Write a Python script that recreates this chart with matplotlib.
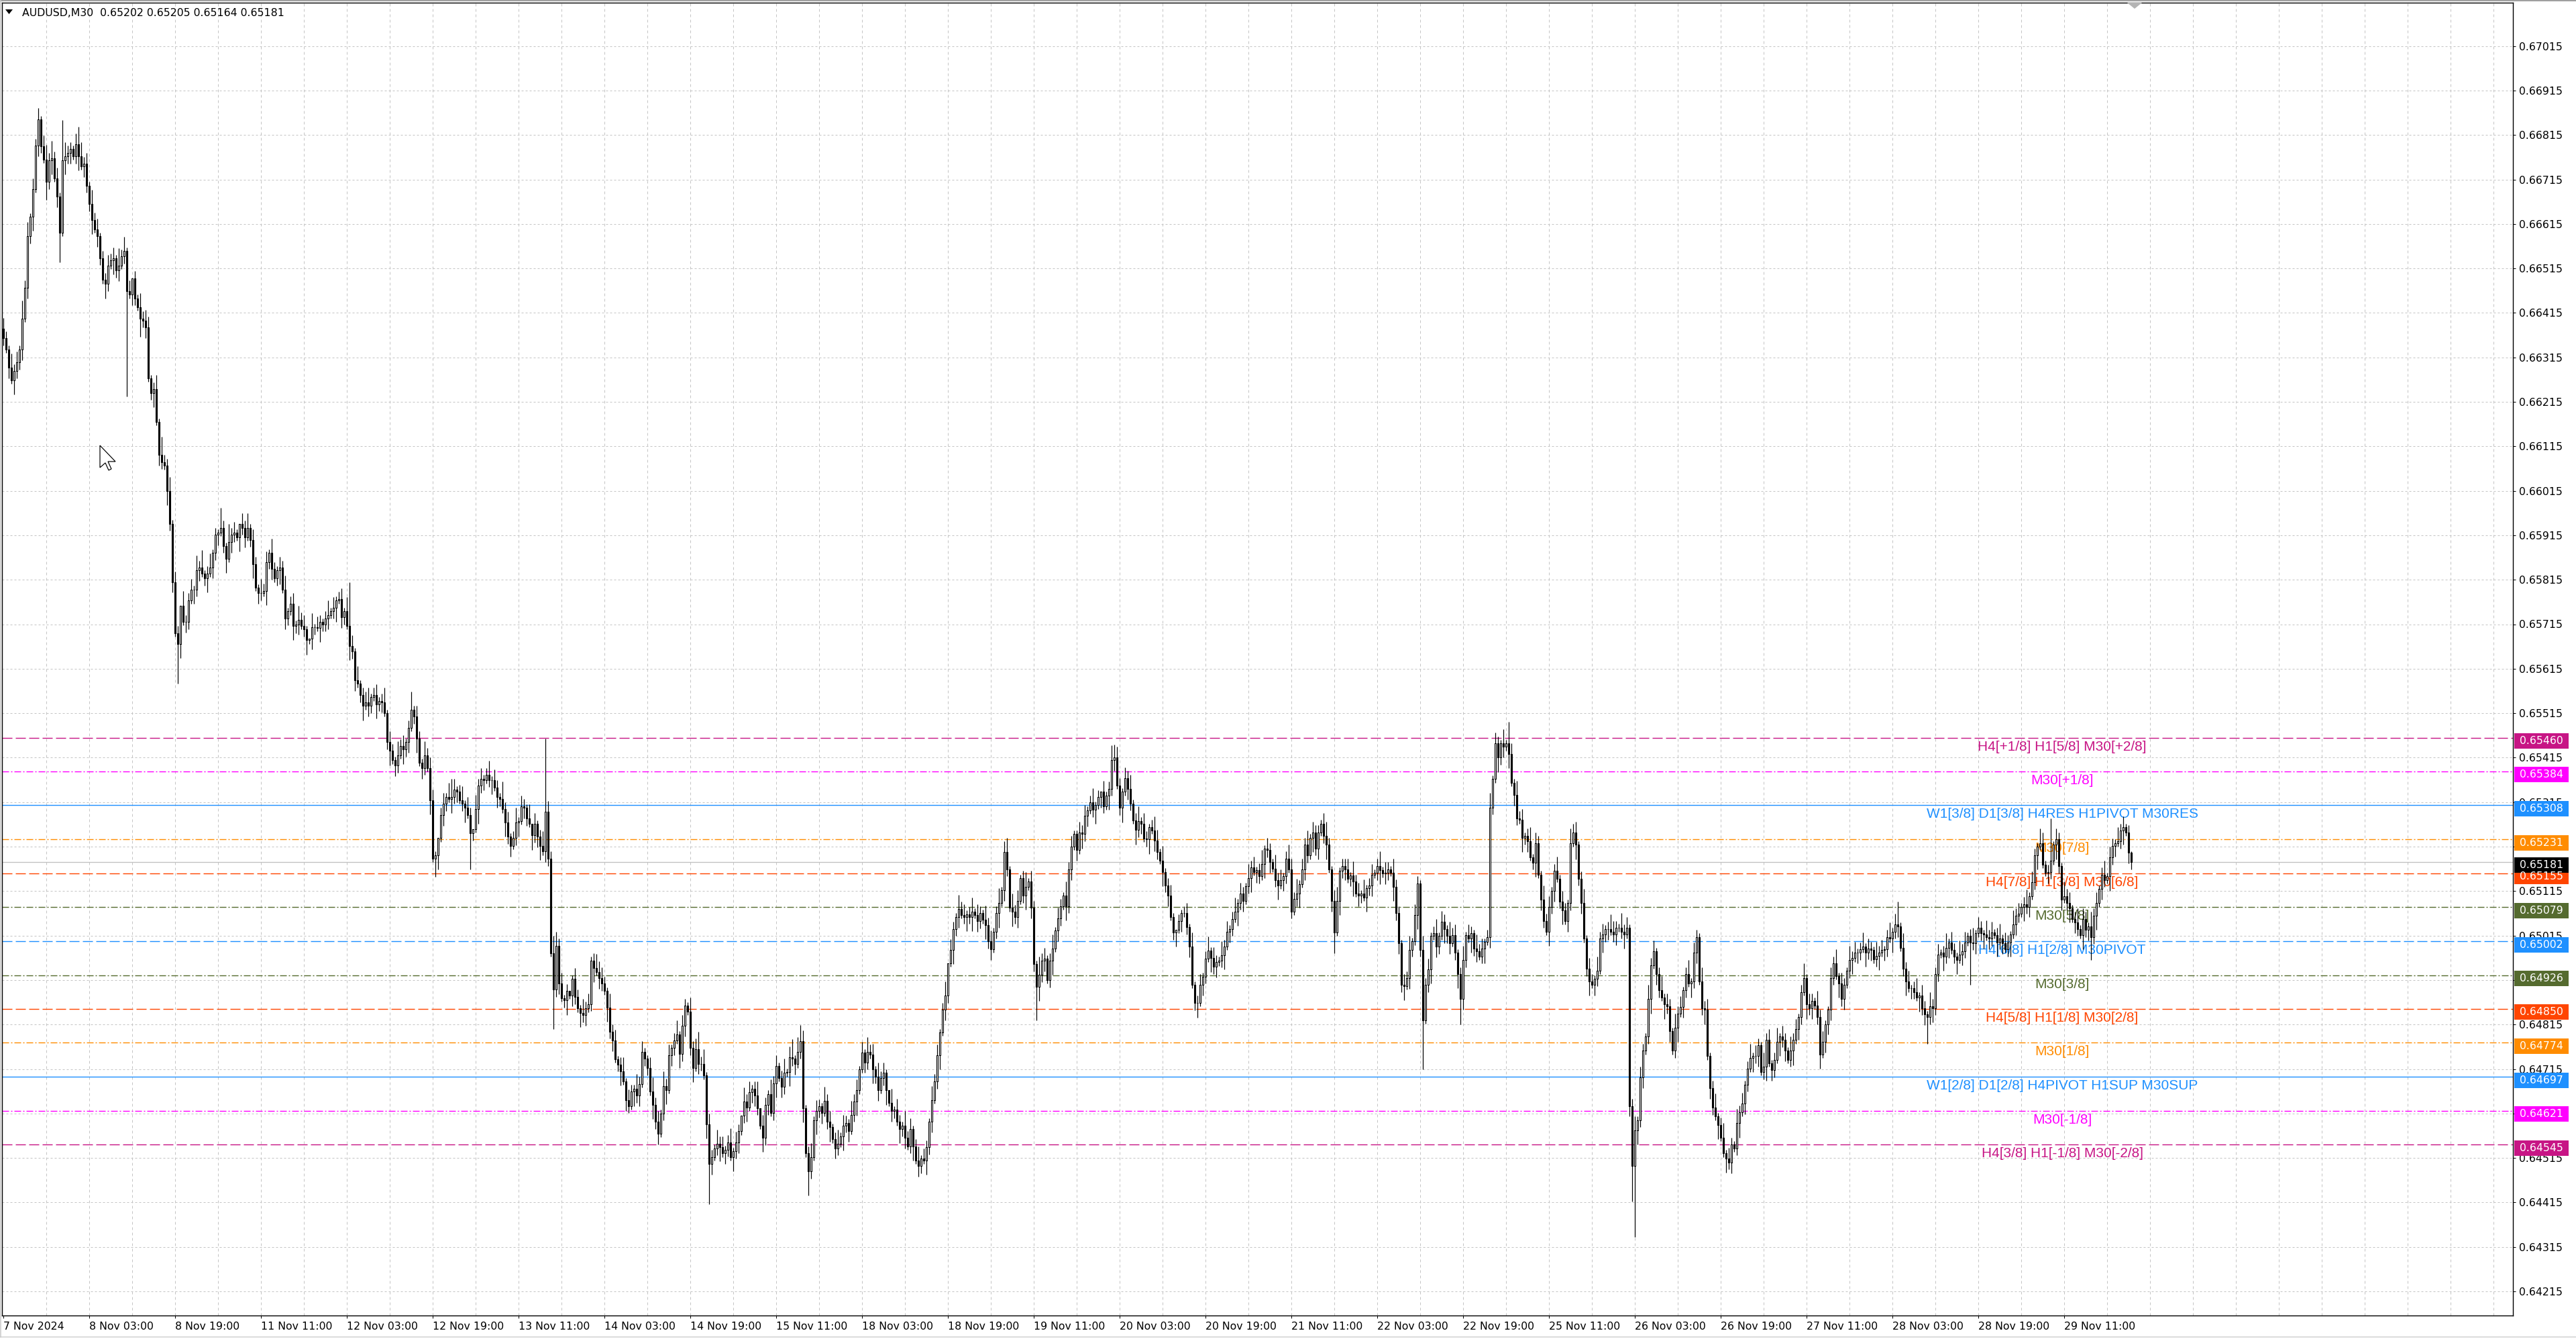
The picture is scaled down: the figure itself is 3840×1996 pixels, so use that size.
import numpy as np
import matplotlib
matplotlib.use("Agg")
import matplotlib.pyplot as plt
from matplotlib.collections import LineCollection, PolyCollection
from matplotlib.patches import Rectangle, Polygon
from matplotlib.lines import Line2D
from matplotlib.transforms import IdentityTransform

plt.rcParams['lines.scale_dashes'] = False
plt.rcParams['font.family'] = ['DejaVu Sans']

# ---------------------------------------------------------------- data
SYMBOL = "AUDUSD,M30"
FIRST_OPEN_PTS = 66380          # prices in broker points (price * 1e5)

CLOSE_PTS = [
    66358,66333,66292,66264,66284,66304,66333,66402,66472,66587,
    66631,66693,66791,66850,66790,66760,66709,66758,66762,66718,
    66677,66595,66758,66767,66775,66783,66767,66794,66767,66745,
    66750,66701,66660,66624,66603,66587,66538,66489,66480,66521,
    66533,66538,66510,66521,66542,66554,66464,66456,66493,66448,
    66428,66402,66398,66382,66268,66235,66243,66170,66096,66080,
    66071,66014,65941,65810,65695,65671,65757,65720,65720,65769,
    65793,65793,65837,65842,65829,65818,65829,65842,65875,65916,
    65921,65932,65891,65862,65900,65916,65921,65911,65941,65932,
    65911,65932,65905,65850,65797,65785,65785,65790,65855,65875,
    65839,65818,65837,65842,65793,65728,65744,65761,65711,65715,
    65725,65711,65703,65679,65682,65708,65708,65707,65720,65715,
    65728,65736,65744,65752,65769,65772,65731,65744,65711,65666,
    65654,65589,65581,65556,65531,65540,65531,65551,65556,65535,
    65543,65540,65515,65450,65430,65409,65397,65420,65441,65433,
    65450,65482,65523,65507,65458,65404,65392,65420,65392,65319,
    65188,65196,65234,65286,65311,65327,65322,65327,65343,65338,
    65319,65311,65302,65286,65245,65254,65299,65352,65368,65365,
    65376,65365,65365,65348,65327,65322,65299,65270,65237,65217,
    65234,65270,65273,65306,65302,65278,65266,65240,65266,65237,
    65217,65204,65294,65188,64975,64893,64992,64907,64874,64869,
    64890,64880,64918,64877,64851,64841,64836,64851,64861,64959,
    64942,64933,64919,64907,64890,64853,64799,64779,64737,64725,
    64710,64687,64645,64632,64664,64671,64655,64681,64754,64738,
    64717,64664,64635,64596,64570,64615,64677,64668,64746,64762,
    64779,64792,64749,64812,64857,64844,64762,64717,64759,64727,
    64727,64700,64591,64501,64517,64537,64547,64540,64525,64534,
    64550,64517,64530,64550,64575,64610,64642,64629,64663,64671,
    64655,64627,64588,64560,64635,64659,64616,64683,64722,64695,
    64675,64706,64708,64742,64738,64726,64754,64777,64627,64525,
    64485,64517,64600,64621,64631,64616,64643,64596,64584,64557,
    64537,64547,64564,64588,64594,64576,64612,64642,64667,64714,
    64752,64730,64754,64747,64714,64698,64668,64694,64706,64667,
    64639,64620,64624,64596,64580,64588,64560,64541,64580,64541,
    64509,64497,64513,64509,64539,64596,64645,64687,64746,64797,
    64848,64880,64953,64983,65030,65057,65075,65061,65057,65063,
    65057,65068,65061,65047,65065,65050,65039,65002,64984,65024,
    65065,65089,65117,65203,65164,65077,65068,65057,65093,65144,
    65105,65125,65136,65077,64951,64900,64927,64959,64963,64915,
    64959,64986,65026,65053,65081,65105,65081,65164,65215,65243,
    65207,65247,65243,65284,65297,65314,65298,65308,65326,65339,
    65306,65330,65345,65410,65416,65353,65302,65338,65369,65345,
    65312,65274,65252,65273,65267,65233,65231,65259,65251,65229,
    65203,65184,65158,65128,65105,65057,65022,65028,65047,65065,
    65065,65034,64990,64904,64863,64864,64904,64923,64963,64981,
    64965,64945,64955,64959,64971,64990,65024,65030,65052,65069,
    65089,65109,65093,65126,65144,65168,65158,65162,65148,65176,
    65210,65207,65180,65165,65140,65128,65140,65148,65188,65164,
    65069,65097,65110,65131,65164,65219,65195,65235,65247,65211,
    65247,65267,65239,65219,65164,65093,65022,65093,65160,65172,
    65164,65142,65150,65136,65110,65105,65109,65101,65121,65128,
    65152,65156,65172,65162,65154,65156,65164,65156,65125,65065,
    64998,64904,64902,64919,64983,65002,65061,65132,64983,64825,
    64904,64939,65014,65020,64990,65014,65046,65030,65014,64998,
    65016,64976,64928,64872,64960,65016,65008,65020,64985,64980,
    64968,64985,65001,65012,65303,65367,65447,65415,65447,65439,
    65447,65423,65359,65331,65279,65275,65235,65239,65227,65191,
    65179,65223,65152,65096,65048,65024,65080,65116,65160,65143,
    65092,65072,65048,65088,65223,65247,65219,65143,65088,65008,
    64940,64912,64904,64918,64936,65008,65017,65030,65030,65024,
    65017,65032,65033,65024,65017,65032,64632,64497,64577,64600,
    64696,64756,64788,64872,64948,64980,64928,64892,64876,64860,
    64856,64800,64756,64808,64840,64854,64892,64928,64908,64912,
    64976,65012,64912,64852,64848,64744,64672,64628,64608,64589,
    64561,64525,64514,64505,64545,64537,64593,64617,64637,64680,
    64716,64740,64744,64744,64768,64708,64720,64780,64728,64712,
    64736,64776,64788,64780,64756,64736,64756,64780,64804,64832,
    64888,64920,64860,64852,64868,64858,64832,64748,64776,64816,
    64848,64920,64952,64924,64908,64872,64904,64936,64960,64964,
    64977,64976,64984,64990,64977,64985,64982,64961,64969,64976,
    64982,64984,65012,65008,65024,65040,65036,64988,64940,64912,
    64896,64896,64888,64876,64880,64852,64838,64832,64856,64852,
    64928,64972,64976,64968,64988,65000,64982,64968,64960,64972,
    64980,65000,65014,65000,64998,65020,65032,65020,65017,65012,
    65008,65022,65016,65000,65009,64998,64984,65000,65017,65040,
    65060,65064,65080,65086,65080,65104,65135,65195,65215,65223,
    65175,65156,65158,65183,65219,65231,65171,65096,65104,65088,
    65076,65052,65044,65030,65016,65052,65028,65036,65012,65060,
    65088,65120,65152,65140,65148,65191,65217,65223,65227,65251,
    65259,65247,65202,65181,
]

# estimated wick lengths, one digit per bar (digit * WICK_STEP_PTS points)
WICK_STEP_PTS = 8
UPPER_WICK = (
    "3214231524132213425231342213542314231223"
    "2315241302142331241522413204223142512412"
    "1321523103241321423142132412314231041321"
    "2413123142314123412312413214231241321423"
    "3102314531241320423124132152312413214031"
    "2413254231201321423124332142312413214231"
    "1342314231241321423524132142312413204231"
    "2403214231241351423124132142312413214231"
    "3142314231041321423124132142312403214231"
    "2413214231241321423124132152312413214231"
    "1323124120312413213241241321243141231021"
    "2314123124132142312413214231241321423124"
    "3241324132213421341223142314123124132142"
    "2132413214231241321423124132142312413214"
    "1231423124132142312413214231241321423124"
    "3214231241321423124132142312413214231241"
    "2413214231241321423124132142312413214231"
    "1324132142312413214231241321423124132142"
    "2312413214231241321423124132142312413214"
    "3124132142312413214231241321423124132142"
    "2132413214231241321423124132142312413214"
)
LOWER_WICK = (
    "2131422313241321524132142312413224132142"
    "1423124132152312413214231241321423124132"
    "3124132142312413214231241321423124132142"
    "2312413214231241321423124132142312413214"
    "1241321423124132142312413214231241321423"
    "4132142312413214231241321423124132142312"
    "2142312413214231241321423124132142312413"
    "3214231241321423124132142312413214231241"
    "1321423124132142312413214231241321423124"
    "2413214231241321423124132142312413214231"
    "3142312413214231241321423124132142312413"
    "1231241321423124132142312413214231241321"
    "2124132142312413214231241321423124132142"
    "3241321423124132142312413214231241321423"
    "1413214231241321423124132142312413214231"
    "2312413214231241321423124132142312413214"
    "1142312413214231241321423124132142312413"
    "3321423124132142312413214231241321423124"
    "2214231241321423124132142312413214231241"
    "1132142312413214231241321423124132142312"
    "2312413214231241321423124132142312413214"
)
HIGH_EXTREMES = {13: 66875, 22: 66848, 81: 65976, 129: 65810, 152: 65564,
                 202: 65458, 297: 64814, 322: 64787, 374: 65235, 414: 65444,
                 561: 65496, 585: 65267, 706: 65092, 763: 65278, 793: 65205}
LOW_EXTREMES = {21: 66529, 46: 66227, 65: 65581, 161: 65147, 174: 65163,
                205: 64804, 263: 64411, 300: 64430, 385: 64825, 496: 64975,
                529: 64714, 543: 64816, 607: 64417, 608: 64337, 717: 64772,
                733: 64904, 778: 64960, 793: 65164}

TIME_LABELS = ["7 Nov 2024", "8 Nov 03:00", "8 Nov 19:00", "11 Nov 11:00",
               "12 Nov 03:00", "12 Nov 19:00", "13 Nov 11:00", "14 Nov 03:00",
               "14 Nov 19:00", "15 Nov 11:00", "18 Nov 03:00", "18 Nov 19:00",
               "19 Nov 11:00", "20 Nov 03:00", "20 Nov 19:00", "21 Nov 11:00",
               "22 Nov 03:00", "22 Nov 19:00", "25 Nov 11:00", "26 Nov 03:00",
               "26 Nov 19:00", "27 Nov 11:00", "28 Nov 03:00", "28 Nov 19:00",
               "29 Nov 11:00"]
BARS_PER_TIME_LABEL = 32

PRICE_TICKS = [0.67015, 0.66915, 0.66815, 0.66715, 0.66615, 0.66515, 0.66415,
               0.66315, 0.66215, 0.66115, 0.66015, 0.65915, 0.65815, 0.65715,
               0.65615, 0.65515, 0.65415, 0.65315, 0.65215, 0.65115, 0.65015,
               0.64915, 0.64815, 0.64715, 0.64615, 0.64515, 0.64415, 0.64315,
               0.64215]

LEVEL_PRICES = [0.65460, 0.65384, 0.65308, 0.65231, 0.65155, 0.65079, 0.65002,
                0.64926, 0.64850, 0.64774, 0.64697, 0.64621, 0.64545]
LEVEL_TEXTS = ["H4[+1/8] H1[5/8] M30[+2/8]", "M30[+1/8]",
               "W1[3/8] D1[3/8] H4RES H1PIVOT M30RES", "M30[7/8]",
               "H4[7/8] H1[3/8] M30[6/8]", "M30[5/8]",
               "H4[6/8] H1[2/8] M30PIVOT", "M30[3/8]",
               "H4[5/8] H1[1/8] M30[2/8]", "M30[1/8]",
               "W1[2/8] D1[2/8] H4PIVOT H1SUP M30SUP", "M30[-1/8]",
               "H4[3/8] H1[-1/8] M30[-2/8]"]

# ---------------------------------------------------------------- styles
LEVEL_COLORS = ['#C71585', '#FF00FF', '#1E90FF', '#FF8C00', '#FF4500', '#556B2F',
                '#1E90FF', '#556B2F', '#FF4500', '#FF8C00', '#1E90FF', '#FF00FF',
                '#C71585']
LEVEL_KINDS = ['dash', 'dashdot', 'solid', 'dashdot', 'dash', 'dashdot', 'dash',
               'dashdot', 'dash', 'dashdot', 'solid', 'dashdot', 'dash']
PX = 0.72  # points per pixel at dpi 100
DASHES = {'dash': (0, (15 * PX, 5 * PX)),
          'dashdot': (0, (10 * PX, 3 * PX, 2 * PX, 3 * PX)),
          'solid': '-'}

W, H, DPI = 3840, 1996, 100
L_PX, R_PX, T_PX, B_PX = 3, 3746, 4, 1961
PX_PER_PRICE = 66300.0
REF_PRICE, REF_Y = 0.67015, 68.6
FS = 11.3

fig = plt.figure(figsize=(W / DPI, H / DPI), dpi=DPI, facecolor='white')
ax = fig.add_axes([L_PX / W, 1 - B_PX / H, (R_PX - L_PX) / W, (B_PX - T_PX) / H])
ax.set_facecolor('white')
y_top = REF_PRICE + (REF_Y - T_PX) / PX_PER_PRICE
y_bot = REF_PRICE - (B_PX - REF_Y) / PX_PER_PRICE
x_left, x_right = -0.5, (R_PX - 5) / 4.0
ax.set_xlim(x_left, x_right)
ax.set_ylim(y_bot, y_top)

# grid
ax.hlines(PRICE_TICKS, x_left, x_right, colors='#C4C4C4', linewidth=1.0 * PX,
          linestyles=[(0, (3 * PX, 3 * PX))], zorder=0.5)
vgrid = np.arange(16, x_right, 16)
ax.vlines(vgrid, y_bot, y_top, colors='#C4C4C4', linewidth=1.0 * PX,
          linestyles=[(0, (4 * PX, 4 * PX))], zorder=0.5)

# level lines + labels
label_x = 767.25
for p, t, col, kind in zip(LEVEL_PRICES, LEVEL_TEXTS, LEVEL_COLORS, LEVEL_KINDS):
    ax.axhline(p, color=col, linewidth=1.4 * PX, linestyle=DASHES[kind], zorder=1)
    ax.annotate(t, xy=(label_x, p), xytext=(0, -4 * PX), textcoords='offset points',
                ha='center', va='top', color=col, fontsize=15,
                family=['Liberation Sans', 'DejaVu Sans'], zorder=1.5)

# candles
n = len(CLOSE_PTS)
c = np.array(CLOSE_PTS, dtype=float) / 1e5
o = np.r_[FIRST_OPEN_PTS, CLOSE_PTS[:-1]].astype(float) / 1e5
uw = np.array([int(ch) for ch in UPPER_WICK[:n]]) * WICK_STEP_PTS / 1e5
lw = np.array([int(ch) for ch in LOWER_WICK[:n]]) * WICK_STEP_PTS / 1e5
hi = np.maximum(o, c) + uw
lo = np.minimum(o, c) - lw
for i, v in HIGH_EXTREMES.items():
    hi[i] = v / 1e5
for i, v in LOW_EXTREMES.items():
    lo[i] = v / 1e5
x = np.arange(n)
ax.add_collection(LineCollection([[(xi, l), (xi, h)] for xi, l, h in zip(x, lo, hi)],
                                 colors='black', linewidths=1.2 * PX, zorder=3))
hw = 0.34
verts, faces = [], []
for xi, oo, cc in zip(x, o, c):
    b, t = min(oo, cc), max(oo, cc)
    verts.append([(xi - hw, b), (xi + hw, b), (xi + hw, t), (xi - hw, t)])
    faces.append('white' if cc > oo else 'black')
ax.add_collection(PolyCollection(verts, facecolors=faces, edgecolors='black',
                                 linewidths=1.1 * PX, zorder=4))

# current price line
cur = c[-1]
ax.axhline(cur, color='#C0C0C0', linewidth=1.3 * PX, zorder=1.2)

# axes
for s in ax.spines.values():
    s.set_color('black')
    s.set_linewidth(1.4 * PX)
ax.yaxis.tick_right()
ax.set_yticks(PRICE_TICKS)
ax.set_yticklabels([f"{p:.5f}" for p in PRICE_TICKS])
ax.tick_params(axis='y', direction='out', length=4 * PX, width=1 * PX, pad=5 * PX,
               labelsize=FS, colors='black')
ax.set_xticks(np.arange(len(TIME_LABELS)) * BARS_PER_TIME_LABEL)
ax.set_xticklabels(TIME_LABELS, ha='left')
ax.tick_params(axis='x', direction='out', length=4 * PX, width=1 * PX, pad=5 * PX,
               labelsize=FS, colors='black')

# price tags on the right axis
def ypix(p):
    return ax.transData.transform((0, p))[1]

tags = list(zip(LEVEL_PRICES, LEVEL_COLORS)) + [(cur, 'black')]
for p, col in tags:
    yc = ypix(p) - 5
    fig.add_artist(Rectangle((3748, yc - 11.5), 81, 23, transform=IdentityTransform(),
                             facecolor=col, edgecolor='none', zorder=10))
    fig.add_artist(plt.Text(3788.5, yc, f"{p:.5f}", transform=IdentityTransform(),
                            ha='center', va='center', color='white', fontsize=FS,
                            zorder=11))

# header
fig.add_artist(plt.Text(33, H - 19, f"{SYMBOL}  {o[-1]:.5f} {hi[-1]:.5f} {lo[-1]:.5f} {c[-1]:.5f}",
                        transform=IdentityTransform(), ha='left', va='center',
                        fontsize=FS, color='black', zorder=12))
fig.add_artist(Polygon([(8, H - 14), (19, H - 14), (13.5, H - 21)], closed=True,
                       transform=IdentityTransform(), facecolor='black',
                       edgecolor='none', zorder=12))

# mouse cursor
tip_x, tip_y = 149, 664
cur_pts = [(0, 0), (0, 33), (8, 26), (13, 37), (17, 35), (12, 24), (23, 24)]
fig.add_artist(Polygon([(tip_x + a, H - (tip_y + b)) for a, b in cur_pts], closed=True,
                       transform=IdentityTransform(), facecolor='white',
                       edgecolor='black', linewidth=1.2 * PX, zorder=12))

# chart-shift marker at top
fig.add_artist(Polygon([(3171, H - 4), (3193, H - 4), (3182, H - 13)], closed=True,
                       transform=IdentityTransform(), facecolor='#B4B4B4',
                       edgecolor='none', zorder=12))

# window borders
fig.add_artist(Line2D([0, W], [H - 1, H - 1], transform=IdentityTransform(),
                      color='#A0A0A0', linewidth=2 * PX, zorder=12))
fig.add_artist(Line2D([0, W], [3, 3], transform=IdentityTransform(),
                      color='#DCDCDC', linewidth=2 * PX, zorder=12))
fig.add_artist(Line2D([1, 1], [3, H], transform=IdentityTransform(),
                      color='#C8C8C8', linewidth=1.5 * PX, zorder=12))

fig.savefig("out.png", dpi=DPI, facecolor='white')
